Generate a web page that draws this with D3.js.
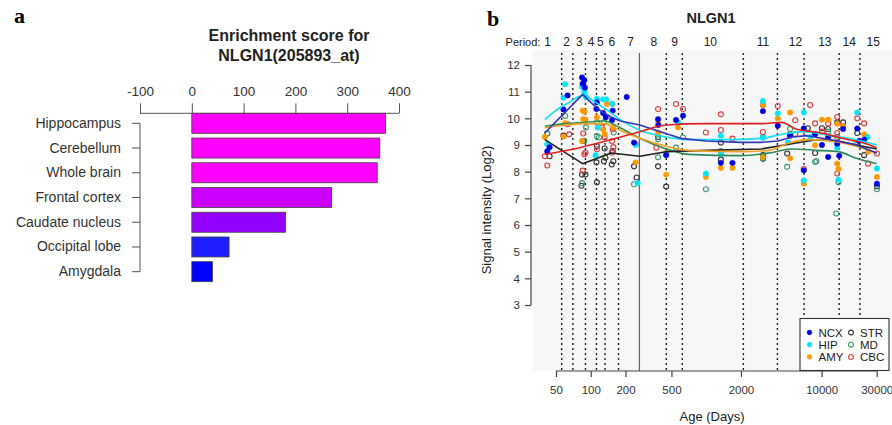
<!DOCTYPE html>
<html><head><meta charset="utf-8">
<script src="https://cdn.jsdelivr.net/npm/d3@7"></script>
<style>body{margin:0;background:#fff}svg{display:block}</style>
</head><body>
<svg id="c" width="892" height="425"></svg>
<script>
// ---------- Panel a data ----------
const regions = ["Hippocampus","Cerebellum","Whole brain","Frontal cortex","Caudate nucleus","Occipital lobe","Amygdala"];
const scores = [374, 363, 358, 270, 181, 72, 40];
const barColors = ["#ff00ff","#ff00ff","#ff00ff","#cc00ff","#9400ff","#1e1eff","#0000ff"];
const scoreTicks = [-100, 0, 100, 200, 300, 400];

// ---------- Panel b data ----------
const yTicks = [3,4,5,6,7,8,9,10,11,12];
const xTicks = [50,100,200,500,2000,10000,30000];
const periodBounds = [56,70,90,112,133,174,264,451,621,2099,4140,7050,14190,21470];
const birthDay = 264;
const periodNames = ["1","2","3","4","5","6","7","8","9","10","11","12","13","14","15"];
const periodPos = [42.3,61.8,79.7,100.6,121,152,221,352,532,1086,3106,5940,10670,17340,28000];

const ncx = [[42,8.77],[44,8.92],[63,10.86],[58,10.33],[84,11.53],[88,11.43],[85,11.3],[89,11.15],[113,10.6],[112,10.35],[128,10.2],[135,10.04],[155,10.29],[153,9.94],[205,10.8],[237,9.09],[383,9.97],[385,9.75],[450,8.62],[548,9.94],[630,10.1],[1340,8.33],[1690,8.33],[3100,10.27],[4170,9.72],[5330,9.35],[7010,9.62],[7010,8.05],[8780,9.4],[10070,9.0],[11390,9.3],[11390,8.55],[13650,9.05],[14200,8.6],[15350,9.6],[20350,9.62],[21000,9.15],[23350,9.2],[30150,7.55]];
const hip = [[42,9.03],[60,11.28],[58,10.77],[84,11.18],[88,10.99],[91,10.8],[113,10.73],[115,9.66],[110,8.62],[128,10.71],[136,10.71],[153,10.55],[245,9.0],[255,7.57],[450,8.65],[570,9.85],[994,7.93],[1340,8.65],[1340,9.35],[3100,10.65],[3100,9.27],[4170,10.18],[5100,9.1],[7010,10.22],[7010,7.67],[8000,9.3],[11390,9.3],[13650,8.9],[14000,7.7],[20350,10.22],[25000,9.3],[30150,8.12]];
const amy = [[40,9.3],[60,9.82],[58,9.32],[85,10.29],[88,10.25],[86,9.97],[90,9.95],[84,9.15],[113,10.04],[128,9.59],[138,10.54],[132,9.41],[155,10.54],[157,9.66],[245,8.35],[383,9.85],[383,9.47],[450,7.89],[450,8.71],[570,9.66],[994,7.8],[1340,8.14],[1690,8.14],[3100,10.5],[3100,8.55],[4170,10.0],[5330,10.22],[5330,8.5],[7010,7.55],[8780,8.99],[10070,9.95],[11390,9.95],[13650,9.8],[13650,8.3],[14000,8.1],[15350,9.7],[23350,9.4],[25270,8.75],[30150,7.8]];
const str = [[42,9.43],[44,8.58],[58,9.35],[86,9.15],[84,7.89],[90,7.89],[83,7.47],[113,8.96],[112,8.35],[113,7.6],[132,8.87],[134,8.52],[130,8.39],[155,8.77],[157,8.39],[152,8.27],[237,8.2],[250,7.78],[383,8.2],[383,9.3],[450,7.44],[1340,9.09],[1340,8.45],[3100,8.62],[3110,8.48],[5030,8.68],[5330,9.4],[7600,9.63],[8780,8.7],[10070,9.63],[11390,9.6],[13650,9.85],[15350,9.85],[20350,9.45],[23350,8.62],[30150,7.45]];
const md = [[42,9.43],[60,10.09],[91,9.66],[84,7.57],[88,9.15],[113,9.85],[113,9.34],[118,9.28],[130,9.85],[158,9.47],[237,7.53],[383,9.22],[383,8.54],[548,8.9],[630,9.28],[994,7.34],[1340,8.77],[3100,9.3],[3100,8.5],[5330,9.6],[5030,8.18],[8780,8.36],[9000,8.4],[11390,9.5],[13650,9.3],[13400,6.43],[14000,7.6],[20350,9.1],[30150,7.34]];
const cbc = [[40,8.58],[42,8.23],[63,9.78],[65,9.4],[86,9.43],[90,8.71],[88,8.65],[85,8.04],[113,8.84],[125,9.66],[132,9.28],[155,9.59],[153,9.15],[157,8.92],[152,8.71],[245,9.03],[383,10.35],[370,8.9],[548,10.54],[630,10.35],[994,9.47],[1340,10.15],[1340,9.56],[1690,9.24],[3100,10.5],[3100,9.49],[4170,10.46],[5900,9.93],[5900,9.4],[7010,8.1],[7950,10.5],[8780,9.81],[10070,9.5],[11390,9.8],[13650,10.05],[13650,9.45],[13650,7.93],[15350,9.7],[20350,10.0],[23350,9.81],[25270,8.3],[30150,8.68]];

// smoothed trends
const ncxTrend = [[40,9.45],[85,10.9],[100,10.6],[120,10.3],[150,10.05],[180,9.9],[266,9.75],[400,9.5],[600,9.25],[1000,9.15],[2000,9.1],[3000,9.1],[4200,9.15],[5500,9.3],[7500,9.35],[12000,9.2],[20000,9.0],[30000,8.7]];
const hipTrend = [[40,9.95],[50,10.3],[65,10.6],[85,10.85],[110,10.6],[140,10.3],[180,9.95],[266,9.55],[450,9.3],[700,9.2],[1500,9.2],[3000,9.25],[4500,9.4],[7000,9.5],[12000,9.35],[20000,9.2],[30000,9.0]];
const amyTrend = [[40,9.65],[60,9.75],[90,9.8],[130,9.8],[180,9.55],[266,9.25],[450,8.95],[700,8.8],[2000,8.75],[3500,8.8],[5000,9.05],[7500,9.2],[12000,9.15],[20000,8.95],[30000,8.7]];
const strTrend = [[40,9.2],[85,8.3],[150,8.7],[266,8.58],[450,8.75],[1000,8.8],[3000,8.85],[5500,9.05],[9000,9.2],[14000,9.15],[20000,9.0],[30000,8.85]];
const mdTrend = [[40,9.7],[60,9.8],[90,9.85],[130,9.9],[180,9.65],[266,9.25],[450,8.85],[700,8.65],[2000,8.6],[3500,8.7],[5500,8.85],[9000,8.8],[14000,8.75],[20000,8.5],[30000,8.3]];
const cbcTrend = [[40,8.65],[80,8.9],[150,9.2],[266,9.5],[450,9.75],[1000,9.8],[3000,9.8],[4500,9.85],[6000,9.6],[10000,9.45],[15000,9.25],[22000,9.1],[30000,8.9]];

const seriesNames = ["NCX","HIP","AMY","STR","MD","CBC"];
const seriesPoints = [ncx, hip, amy, str, md, cbc];
const seriesTrends = [ncxTrend, hipTrend, amyTrend, strTrend, mdTrend, cbcTrend];
const seriesFilled = [true, true, true, false, false, false];
const pointColors = ["#0000dd","#00e5ff","#ff9900","#333333","#3c9a6a","#e03a3a"];
const lineColors = ["#3535b8","#10e0f0","#f0a020","#222222","#2e8b57","#e02020"];

const svg = d3.select("#c");
const FONT = "'Liberation Sans', Arial, sans-serif";
const hyphenFmt = d => String(d);

// =============== Panel a ===============
const a = svg.append("g");
a.append("text").attr("x", 14).attr("y", 23).text("a")
  .attr("font-family","'Liberation Serif', serif").attr("font-weight","bold").attr("font-size",22);
a.append("text").attr("x", 289).attr("y", 41).attr("text-anchor","middle")
  .attr("font-family",FONT).attr("font-weight","bold").attr("font-size",16).attr("fill","#222")
  .text("Enrichment score for");
a.append("text").attr("x", 289).attr("y", 61).attr("text-anchor","middle")
  .attr("font-family",FONT).attr("font-weight","bold").attr("font-size",16).attr("fill","#222")
  .text("NLGN1(205893_at)");

const xA = d3.scaleLinear().domain([-100, 400]).range([140, 399]);
const yA = d3.scaleBand().domain(regions).range([110.95, 284.05]).paddingInner(0.19).paddingOuter(0.095);

const topAxis = a.append("g").attr("transform","translate(0,113.3)")
  .call(d3.axisTop(xA).tickValues(scoreTicks).tickSize(10).tickPadding(7).tickFormat(hyphenFmt));
topAxis.select(".domain").attr("stroke","#555").attr("d","M140,0H399");
topAxis.selectAll(".tick line").attr("stroke","#555");
topAxis.selectAll("text").attr("font-family",FONT).attr("font-size",13.5).attr("fill","#333");

a.selectAll("rect.bar").data(regions).join("rect").attr("class","bar")
  .attr("x", xA(0)).attr("y", d => yA(d))
  .attr("width", (d,i) => xA(scores[i]) - xA(0)).attr("height", yA.bandwidth())
  .attr("fill", (d,i) => barColors[i]).attr("stroke","#444").attr("stroke-width",0.8);

const leftAxis = a.append("g").attr("transform","translate(140,0)")
  .call(d3.axisLeft(yA).tickSize(8).tickPadding(11));
leftAxis.select(".domain").attr("stroke","#555")
  .attr("d", `M0,${yA(regions[0]) + yA.bandwidth()/2}V${yA(regions[6]) + yA.bandwidth()/2}`);
leftAxis.selectAll(".tick line").attr("stroke","#555");
leftAxis.selectAll("text").attr("font-family",FONT).attr("font-size",14).attr("fill","#333");

// =============== Panel b ===============
const b = svg.append("g");
const x = d3.scaleLog().domain([50, 30000]).range([556, 876.7]);
const y = d3.scaleLinear().domain([3, 12]).range([305, 65]);
const plotTop = 50, plotBottom = 371, plotLeft = 532, plotRight = 892;

b.append("rect").attr("x", plotLeft).attr("y", plotTop).attr("width", plotRight - plotLeft)
  .attr("height", plotBottom - plotTop).attr("fill","#f7f7f7");

b.append("text").attr("x", 487).attr("y", 26).text("b")
  .attr("font-family","'Liberation Serif', serif").attr("font-weight","bold").attr("font-size",22);
b.append("text").attr("x", 711).attr("y", 23).attr("text-anchor","middle")
  .attr("font-family",FONT).attr("font-weight","bold").attr("font-size",14.5).attr("fill","#222").text("NLGN1");

// period lines
b.selectAll("line.pb").data(periodBounds).join("line").attr("class","pb")
  .attr("x1", d => x(d)).attr("x2", d => x(d)).attr("y1", 53).attr("y2", plotBottom)
  .attr("stroke", d => d === birthDay ? "#666" : "#222")
  .attr("stroke-width", d => d === birthDay ? 1.2 : 1.4)
  .attr("stroke-dasharray", d => d === birthDay ? null : "2,3");

b.append("text").attr("x", 523).attr("y", 46).attr("text-anchor","middle")
  .attr("font-family",FONT).attr("font-size",11).attr("fill","#222").text("Period:");
b.selectAll("text.pn").data(periodNames).join("text").attr("class","pn")
  .attr("x", (d,i) => x(periodPos[i])).attr("y", 46).attr("text-anchor","middle")
  .attr("font-family",FONT).attr("font-size",12).attr("fill","#222").text(d => d);

// y axis
const yAx = b.append("g").attr("transform","translate(531,0)")
  .call(d3.axisLeft(y).tickValues(yTicks).tickSize(6).tickPadding(5));
yAx.select(".domain").attr("stroke","#444").attr("stroke-width",1.2).attr("d", `M0,${y(3)}V${y(12)}`);
yAx.selectAll(".tick line").attr("stroke","#444").attr("stroke-width",1.2);
yAx.selectAll("text").attr("font-family",FONT).attr("font-size",11.5).attr("fill","#333");
b.append("text").attr("transform","translate(491,210) rotate(-90)").attr("text-anchor","middle")
  .attr("font-family",FONT).attr("font-size",13).attr("fill","#222").text("Signal intensity (Log2)");

// x axis
const xAx = b.append("g").attr("transform",`translate(0,${plotBottom})`)
  .call(d3.axisBottom(x).tickValues(xTicks).tickSize(6).tickPadding(9).tickFormat(hyphenFmt));
xAx.select(".domain").attr("stroke","#444").attr("stroke-width",1.2).attr("d", `M${x(50)},0H${x(30000)}`);
xAx.selectAll(".tick line").attr("stroke","#444").attr("stroke-width",1.2);
xAx.selectAll("text").attr("font-family",FONT).attr("font-size",11.5).attr("fill","#333");
b.append("text").attr("x", 712).attr("y", 421).attr("text-anchor","middle")
  .attr("font-family",FONT).attr("font-size",13).attr("fill","#222").text("Age (Days)");

// points (open first, then filled)
const order = [3,4,5,2,1,0];
order.forEach(i => {
  b.append("g").selectAll("circle").data(seriesPoints[i]).join("circle")
    .attr("cx", d => x(d[0])).attr("cy", d => y(d[1]))
    .attr("r", seriesFilled[i] ? 2.7 : 2.5)
    .attr("fill", seriesFilled[i] ? pointColors[i] : "none")
    .attr("stroke", pointColors[i]).attr("stroke-width", seriesFilled[i] ? 0.5 : 1.1);
});

// trend lines
const smooth = d3.line().x(d => x(d[0])).y(d => y(d[1])).curve(d3.curveMonotoneX);
const straight = d3.line().x(d => x(d[0])).y(d => y(d[1])).curve(d3.curveLinear);
[4,3,2,1,0,5].forEach(i => {
  const gen = (i === 3 || i === 0) ? straight : smooth;
  b.append("path").attr("d", gen(seriesTrends[i])).attr("fill","none")
    .attr("stroke", lineColors[i]).attr("stroke-width", 1.6).attr("stroke-linejoin","round");
});

// legend
const lg = b.append("g");
lg.append("rect").attr("x", 800).attr("y", 318.5).attr("width", 89).attr("height", 52)
  .attr("fill","#fff").attr("stroke","#333").attr("stroke-width",1.1);
seriesNames.forEach((n, i) => {
  const col = i < 3 ? 0 : 1, row = i % 3;
  const mx = col === 0 ? 809.5 : 851, ty = 332.5 + row * 12.2;
  lg.append("circle").attr("cx", mx).attr("cy", ty)
    .attr("r", 2.4).attr("fill", seriesFilled[i] ? pointColors[i] : "none")
    .attr("stroke", pointColors[i]).attr("stroke-width", seriesFilled[i] ? 0.5 : 1.1);
  lg.append("text").attr("x", mx + 9).attr("y", ty + 4).attr("font-family",FONT)
    .attr("font-size",11.5).attr("fill","#222").text(n);
});
</script>
</body></html>
